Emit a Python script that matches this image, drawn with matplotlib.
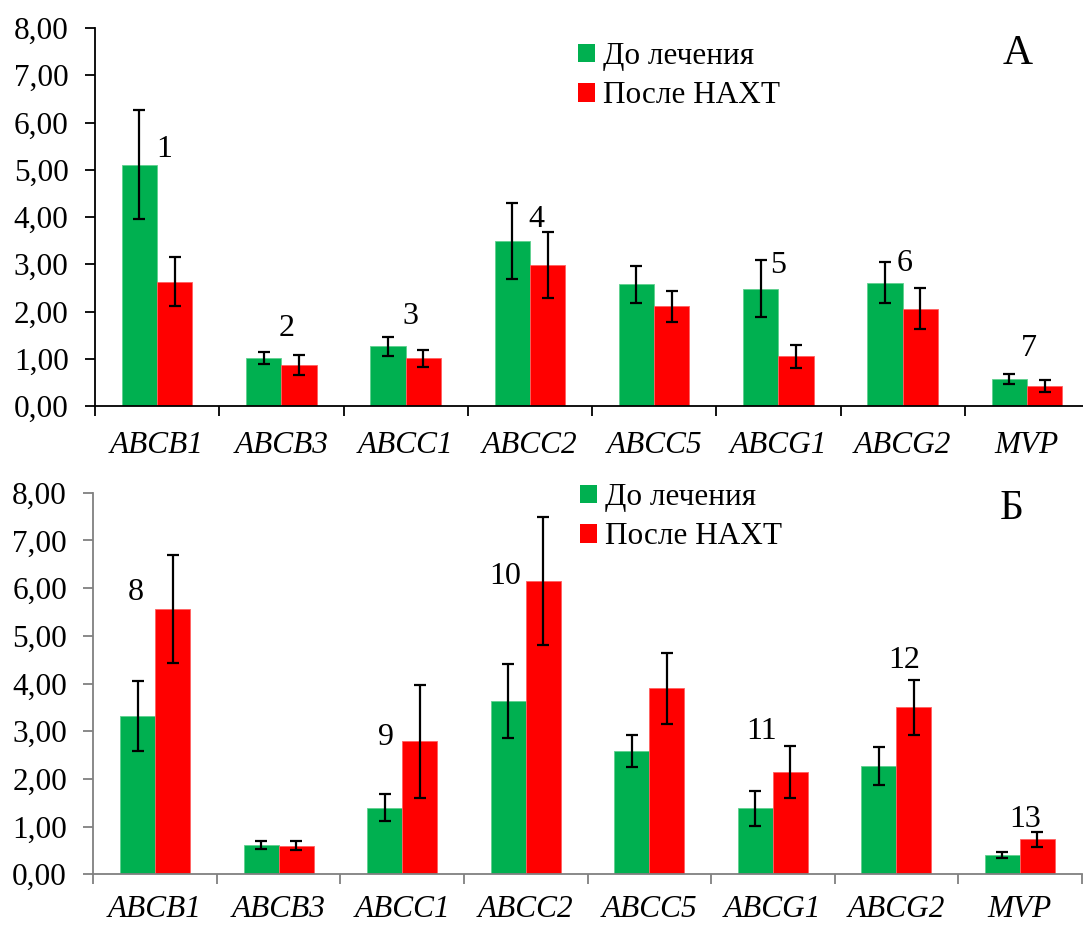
import numpy as np
import matplotlib
matplotlib.use("Agg")
import matplotlib.pyplot as plt
from matplotlib.patches import Patch
from matplotlib.ticker import FuncFormatter

plt.rcParams['font.family'] = ['Liberation Serif', 'DejaVu Serif']

genes = ['ABCB1', 'ABCB3', 'ABCC1', 'ABCC2', 'ABCC5', 'ABCG1', 'ABCG2', 'MVP']
series_names = ['До лечения', 'После НАХТ']

# panel A
a_before = [5.11, 1.02, 1.26, 3.49, 2.58, 2.48, 2.61, 0.57]
a_before_err = [1.15, 0.13, 0.21, 0.80, 0.39, 0.60, 0.44, 0.11]
a_after = [2.63, 0.86, 1.01, 2.98, 2.11, 1.05, 2.06, 0.42]
a_after_err = [0.52, 0.21, 0.18, 0.70, 0.33, 0.24, 0.43, 0.13]
a_marks = ['1', '2', '3', '4', '5', '6', '7']
a_mark_x = [0.06, 1.04, 2.04, 3.05, 5.0, 6.02, 7.02]
a_mark_y = [5.42, 1.65, 1.89, 3.94, 2.97, 3.02, 1.22]

# panel Б
b_before = [3.32, 0.61, 1.40, 3.63, 2.58, 1.38, 2.27, 0.41]
b_before_err = [0.74, 0.09, 0.29, 0.78, 0.34, 0.37, 0.40, 0.06]
b_after = [5.56, 0.60, 2.79, 6.15, 3.90, 2.15, 3.50, 0.73]
b_after_err = [1.14, 0.10, 1.18, 1.35, 0.74, 0.55, 0.57, 0.15]
b_marks = ['8', '9', '10', '11', '12', '13']
b_mark_x = [-0.16, 1.87, 2.83, 4.91, 6.06, 7.04]
b_mark_y = [5.90, 2.86, 6.25, 2.99, 4.49, 1.14]

green = '#00B050'
red = '#FF0000'
fs = 22.5

fig = plt.figure(figsize=(10.83, 9.26), dpi=100)
ax_a = fig.add_axes([95 / 1083, 1 - 406 / 926, 994 / 1083, 378 / 926])
ax_b = fig.add_axes([93.3 / 1083, 1 - 874.3 / 926, 988.4 / 1083, 381.6 / 926])


def draw_panel(ax, before, before_err, after, after_err, marks, mx, my,
               letter, letter_xy, axis_color, legend_xy, name_pad):
    x = np.arange(len(genes))
    w = 0.284
    ax.bar(x - w / 2, before, w, color=green, edgecolor='#5fd08e', linewidth=0.6,
           yerr=before_err, capsize=4.5, error_kw=dict(elinewidth=1.6, capthick=1.6, ecolor='black'),
           label=series_names[0], zorder=2)
    ax.bar(x + w / 2, after, w, color=red, edgecolor='#ff6060', linewidth=0.6,
           yerr=after_err, capsize=4.5, error_kw=dict(elinewidth=1.6, capthick=1.6, ecolor='black'),
           label=series_names[1], zorder=2)
    for t, xx, yy in zip(marks, mx, my):
        ax.text(xx, yy, t, ha='center', va='center', fontsize=fs + 0.5)

    ax.set_xlim(-0.5, len(genes) - 0.5)
    ax.set_ylim(0, 8)
    ax.set_yticks(np.arange(0, 9, 1))
    ax.yaxis.set_major_formatter(FuncFormatter(lambda v, p: f'{v:.2f}'.replace('.', ',')))
    # category boundaries get the tick marks, names sit between them
    ax.set_xticks(np.arange(-0.5, len(genes), 1.0))
    ax.set_xticklabels([])
    ax.set_xticks(x, minor=True)
    ax.set_xticklabels(genes, minor=True, fontstyle='italic', fontsize=fs)
    ax.tick_params(axis='x', which='minor', length=0, pad=name_pad)
    ax.tick_params(axis='x', which='major', direction='out', length=7, width=1.3, color=axis_color)
    ax.tick_params(axis='y', direction='out', length=7, width=1.3, color=axis_color,
                   labelsize=fs, pad=12)
    for s in ['top', 'right']:
        ax.spines[s].set_visible(False)
    for s in ['left', 'bottom']:
        ax.spines[s].set_color(axis_color)
        ax.spines[s].set_linewidth(1.3)

    handles = [Patch(facecolor=green), Patch(facecolor=red)]
    ax.legend(handles, series_names, loc='upper left',
              bbox_to_anchor=(legend_xy[0] / 1083, 1 - legend_xy[1] / 926),
              bbox_transform=fig.transFigure, frameon=False, fontsize=fs,
              handlelength=0.55, handleheight=0.55, handletextpad=0.25,
              labelspacing=0.33, borderpad=0, borderaxespad=0)
    fig.text(letter_xy[0] / 1083, 1 - letter_xy[1] / 926, letter,
             ha='center', va='center', fontsize=30)


draw_panel(ax_a, a_before, a_before_err, a_after, a_after_err,
           a_marks, a_mark_x, a_mark_y, 'А', (1018, 54), 'black', (578, 42), 18)
draw_panel(ax_b, b_before, b_before_err, b_after, b_after_err,
           b_marks, b_mark_x, b_mark_y, 'Б', (1012, 509), '#808080', (580, 483), 15)

fig.savefig('out.png', dpi=100)
